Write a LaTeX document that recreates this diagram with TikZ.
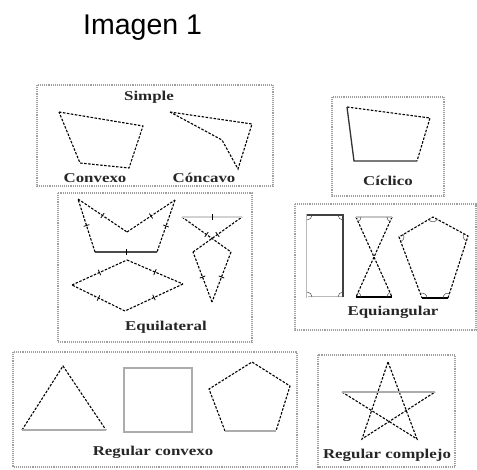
\documentclass[tikz,border=0pt]{standalone}
\usepackage{fontspec}
\setmainfont{Liberation Serif}
\newfontfamily\titlefont{Liberation Sans}
\usetikzlibrary{decorations.markings}
\newcommand{\wide}[1]{\scalebox{1.25}[1]{#1}}
\begin{document}
\begin{tikzpicture}[x=1pt,y=-1pt,
  frame/.style={gray!75, densely dotted, line width=1.1pt},
  dsh/.style={black, line width=1.1pt, dash pattern=on 2.5pt off 1.5pt},
  sol/.style={gray!65, line width=1.4pt},
  blk/.style={black, line width=1.6pt},
  amark/.style={gray!60!black, line width=0.5pt},
  lbl/.style={font=\fontsize{13.5}{14}\selectfont\bfseries, text=black!85, inner sep=0pt},
  eqtick/.style={postaction={decorate, decoration={markings,
      mark=at position 0.5 with {\draw[black, solid, line width=0.8pt] (0,-3)--(0,3);}}}},
]
\useasboundingbox (0,0) rectangle (477,469);

% title
\node[anchor=base west, inner sep=0pt, font=\titlefont\fontsize{28.5}{30}\selectfont] (title) at (83,34) {Imagen 1};

% frames
\draw[frame] (37,85) rectangle (273,186);
\draw[frame] (332,97) rectangle (444,196);
\draw[frame] (58,193) rectangle (252,342);
\draw[frame] (295,204) rectangle (476,330);
\draw[frame] (13,352) rectangle (297,467);
\draw[frame] (318,355) rectangle (455,467);

% labels
\node[lbl] (simple) at (149,97) {\wide{Simple}};
\node[lbl] (convexo) at (95,178) {\wide{Convexo}};
\node[lbl] (concavo) at (204,178) {\wide{Cóncavo}};
\node[lbl] (ciclico) at (388,181) {\wide{Cíclico}};
\node[lbl] (equil) at (166,327) {\wide{Equilateral}};
\node[lbl] (equiang) at (393,312) {\wide{Equiangular}};
\node[lbl] (regconv) at (153,452) {\wide{Regular convexo}};
\node[lbl] (regcomp) at (387,455) {\wide{Regular complejo}};

% Simple
\draw[dsh] (59,112) -- (143,126) -- (129,168) -- (80,163) -- cycle;
\draw[dsh] (170,112) -- (252,124) -- (238,169) -- (222,140) -- cycle;

% Ciclico
\draw[dsh] (347,107) -- (430,118) -- (417,161);
\draw[black!80, line width=1.3pt] (417,161) -- (354,161) -- (347,107);

% Equilateral: concave pentagon
\draw[dsh,eqtick] (78,199) -- (127,232);
\draw[dsh,eqtick] (127,232) -- (175,200);
\draw[dsh,eqtick] (175,200) -- (157,252);
\draw[black!70, line width=1.4pt, eqtick] (157,252) -- (95,252);
\draw[dsh,eqtick] (95,252) -- (78,199);
% rhombus
\draw[dsh,eqtick] (72,285) -- (127,260);
\draw[dsh,eqtick] (127,260) -- (183,284);
\draw[dsh,eqtick] (183,284) -- (125,311);
\draw[dsh,eqtick] (125,311) -- (72,285);
% crossed hexagon
\draw[dsh,eqtick] (182,217) -- (231,252);
\draw[dsh,eqtick] (231,252) -- (212,302);
\draw[dsh,eqtick] (212,302) -- (193,252);
\draw[dsh,eqtick] (193,252) -- (242,217);
\draw[gray!35, line width=1.4pt, eqtick] (242,217) -- (182,217);

% Equiangular: rectangle
\draw[gray!55, line width=0.6pt, double=white, double distance=1pt] (307,215) rectangle (343,297);
\draw[black!75, line width=1.2pt] (307,215) -- (343,215) -- (343,297);
\draw[amark] (312,215) arc[start angle=0, end angle=90, radius=5];
\draw[amark] (343,220) arc[start angle=90, end angle=180, radius=5];
\draw[amark] (338,297) arc[start angle=180, end angle=270, radius=5];
\draw[amark] (307,292) arc[start angle=270, end angle=360, radius=5];
% bowtie
\draw[dsh] (356,217) -- (392,297);
\draw[dsh] (392,217) -- (356,297);
\draw[gray!45, line width=1.3pt] (356,217) -- (392,217);
\draw[blk] (356,297) -- (392,297);
\draw[amark] (356,217) ++(0:5) arc[start angle=0, end angle=66, radius=5];
\draw[amark] (392,217) ++(114:5) arc[start angle=114, end angle=180, radius=5];
\draw[amark] (356,297) ++(-66:5) arc[start angle=-66, end angle=0, radius=5];
\draw[amark] (392,297) ++(180:5) arc[start angle=180, end angle=246, radius=5];
% pentagon
\draw[dsh] (448,298) -- (468,236) -- (433,217) -- (399,237) -- (422,298);
\draw[blk] (422,298) -- (448,298);
\draw[amark] (433,217) ++(28.5:5) arc[start angle=28.5, end angle=149.5, radius=5];
\draw[amark] (468,236) ++(108:5) arc[start angle=108, end angle=208.5, radius=5];
\draw[amark] (448,298) ++(180:5) arc[start angle=180, end angle=288, radius=5];
\draw[amark] (422,298) ++(249.3:5) arc[start angle=249.3, end angle=360, radius=5];
\draw[amark] (399,237) ++(-30.5:5) arc[start angle=-30.5, end angle=69.3, radius=5];

% Regular convexo
\draw[dsh] (22,430) -- (63,366) -- (106,430);
\draw[sol] (106,430) -- (22,430);
\draw[sol, line width=1.5pt] (124,368) rectangle (192,432);
\draw[dsh] (225,431) -- (209,389) -- (252,362) -- (290,386) -- (276,431);
\draw[sol] (276,431) -- (225,431);

% Regular complejo (star)
\draw[dsh] (388,362) -- (362,439) -- (435,392);
\draw[dsh] (342,392) -- (417,439) -- (388,362);
\draw[sol] (342,392) -- (435,392);
\end{tikzpicture}
\end{document}
